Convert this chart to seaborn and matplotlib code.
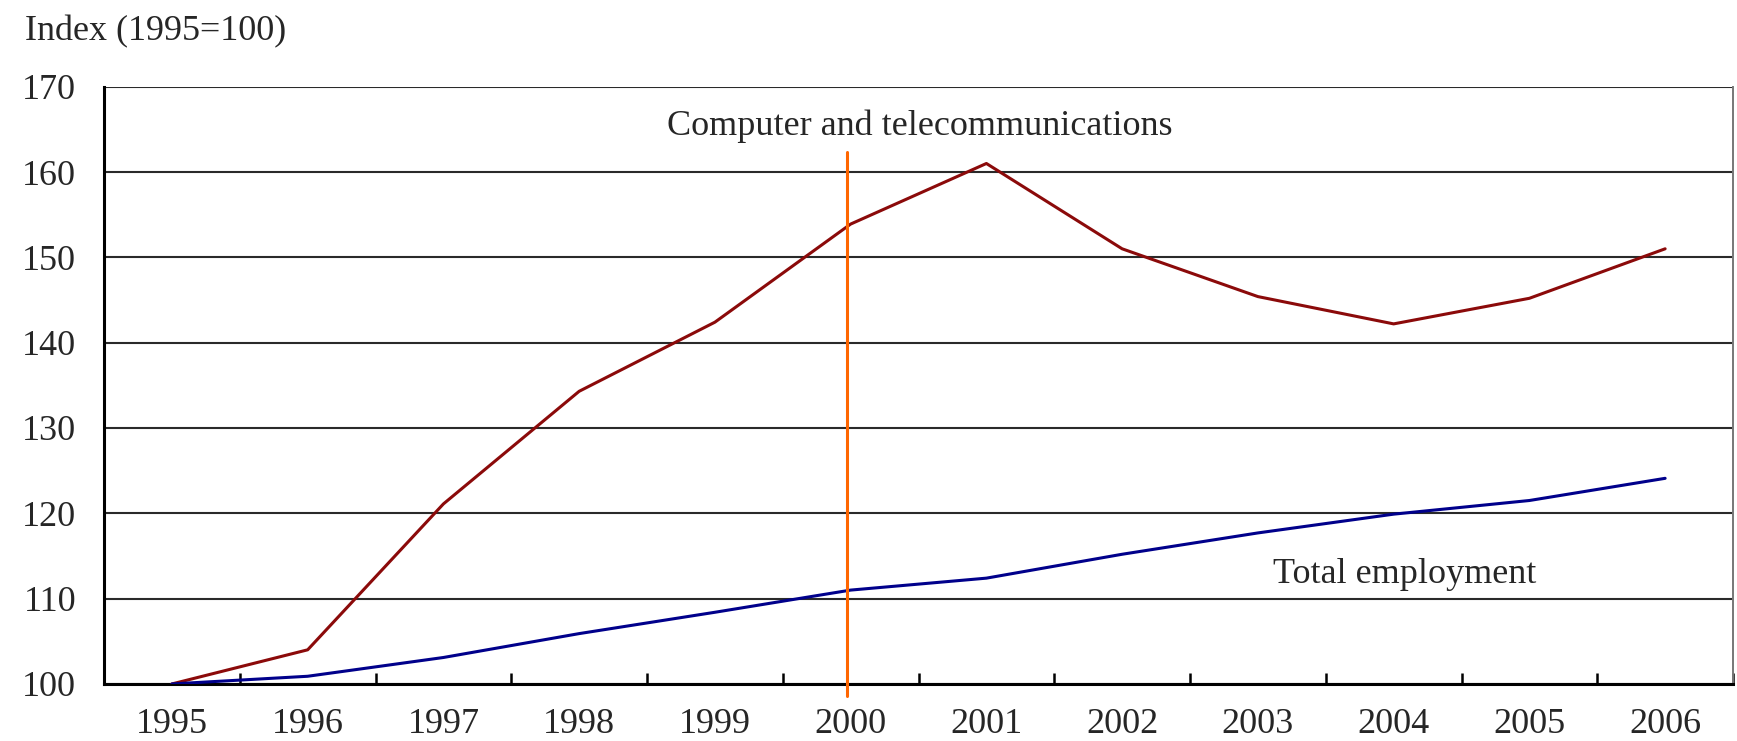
import pandas as pd
import matplotlib
matplotlib.use("Agg")
import matplotlib.pyplot as plt
import seaborn as sns

# data (index, 1995 = 100)
years = ['1995', '1996', '1997', '1998', '1999', '2000',
         '2001', '2002', '2003', '2004', '2005', '2006']
computer_telecom = [100, 104.0, 121.1, 134.3, 142.4, 153.9,
                    161.0, 151.0, 145.4, 142.2, 145.2, 151.0]
total_employment = [100, 100.9, 103.1, 105.9, 108.4, 111.0,
                    112.4, 115.2, 117.7, 119.9, 121.5, 124.1]
y_ticks = [100, 110, 120, 130, 140, 150, 160, 170]
marker_year = '2000'

sns.set_style("white")
plt.rcParams['font.family'] = ['Liberation Serif', 'DejaVu Serif']

# long table for seaborn
df = pd.DataFrame({
    'pos': list(range(len(years))) * 2,
    'value': computer_telecom + total_employment,
    'series': ['Computer and telecommunications'] * len(years)
              + ['Total employment'] * len(years),
})

fig = plt.figure(figsize=(17.37, 7.41), dpi=100)
ax = fig.add_axes([0.0599, 0.077, 0.9378, 0.806])

sns.lineplot(data=df, x='pos', y='value', hue='series',
             palette={'Computer and telecommunications': '#8B0A0A',
                      'Total employment': '#00008B'},
             linewidth=2.2, legend=False, ax=ax, zorder=3)

# vertical marker at 2000
ax.axvline(years.index(marker_year) - 0.03, ymin=-0.02, ymax=0.89,
           color='#FF6600', linewidth=2.2, clip_on=False, zorder=4)

ax.set_xlim(-0.5, len(years) - 0.5)
ax.set_ylim(100, 170)
ax.set_yticks(y_ticks)
ax.set_xticks(range(len(years)))
ax.set_xticklabels(years)
ax.set_xticks([i + 0.5 for i in range(len(years))], minor=True)
ax.tick_params(axis='x', which='major', bottom=True, length=0, pad=17,
               labelsize=26)
ax.tick_params(axis='x', which='minor', bottom=True, direction='in',
               length=8, width=1.8, color='black')
ax.tick_params(axis='y', length=0, pad=20, labelsize=26)
ax.set_xlabel('')
ax.set_ylabel('')

ax.grid(axis='y', color='#2a2a2a', linewidth=1.5)
ax.grid(axis='x', visible=False)
ax.set_axisbelow(True)

ax.spines['top'].set_visible(False)
ax.spines['left'].set_color('black')
ax.spines['left'].set_linewidth(2.2)
ax.spines['bottom'].set_color('black')
ax.spines['bottom'].set_linewidth(2.2)
ax.spines['right'].set_color('#777777')
ax.spines['right'].set_linewidth(1.4)

ax.text(5.51, 164.3, 'Computer and telecommunications', ha='center',
        va='baseline', fontsize=26)
ax.text(9.08, 111.8, 'Total employment', ha='center', va='baseline',
        fontsize=26)
fig.text(0.0145, 0.946, 'Index (1995=100)', ha='left', va='baseline',
         fontsize=26)

fig.savefig('out.png', dpi=100)
